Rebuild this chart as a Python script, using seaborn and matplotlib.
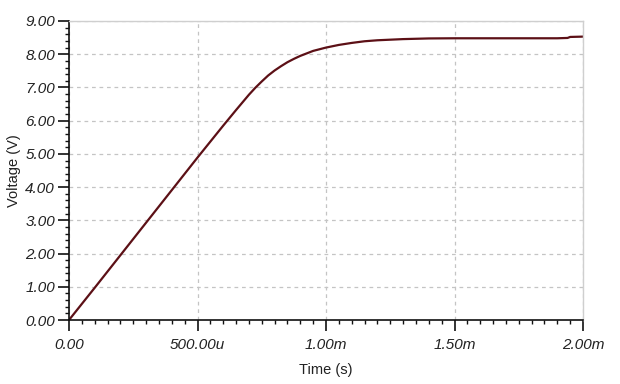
import matplotlib
matplotlib.use("Agg")
import matplotlib.pyplot as plt
import seaborn as sns
import pandas as pd
from matplotlib.ticker import MultipleLocator, FixedLocator

# Data (time in ms, voltage in V)
time_ms = [0.0, 0.1, 0.2, 0.3, 0.4, 0.5, 0.6, 0.65, 0.7, 0.725, 0.75, 0.775, 0.8,
           0.825, 0.85, 0.875, 0.9, 0.95, 1.0, 1.05, 1.1, 1.15, 1.2, 1.3, 1.4,
           1.5, 1.6, 1.7, 1.8, 1.9, 1.94, 1.95, 2.0]
voltage = [0.0, 0.97, 1.95, 2.93, 3.91, 4.89, 5.85, 6.32, 6.78, 6.99, 7.18, 7.36, 7.51,
           7.64, 7.76, 7.86, 7.95, 8.10, 8.20, 8.28, 8.34, 8.39, 8.42, 8.455, 8.475,
           8.48, 8.48, 8.48, 8.48, 8.48, 8.49, 8.52, 8.53]

x_ticks = [0.0, 0.5, 1.0, 1.5, 2.0]
x_tick_labels = ["0.00", "500.00u", "1.00m", "1.50m", "2.00m"]
y_ticks = [0, 1, 2, 3, 4, 5, 6, 7, 8, 9]
y_tick_labels = ["0.00", "1.00", "2.00", "3.00", "4.00", "5.00", "6.00", "7.00", "8.00", "9.00"]

df = pd.DataFrame({"t": time_ms, "v": voltage})

sns.set_theme(style="white")
plt.rcParams["font.family"] = ["Liberation Sans", "DejaVu Sans"]

fig = plt.figure(figsize=(6.2, 3.84), dpi=100)
ax = fig.add_axes([69 / 620, 64 / 384, (583 - 69) / 620, (320 - 21) / 384])

sns.lineplot(data=df, x="t", y="v", ax=ax, color="#5c1016", linewidth=1.6)

ax.set_xlim(0, 2.0)
ax.set_ylim(0, 9.0)

ax.xaxis.set_major_locator(FixedLocator(x_ticks))
ax.set_xticklabels(x_tick_labels)
ax.yaxis.set_major_locator(FixedLocator(y_ticks))
ax.set_yticklabels(y_tick_labels)
ax.xaxis.set_minor_locator(MultipleLocator(0.05))
ax.yaxis.set_minor_locator(MultipleLocator(0.2))

ax.grid(True, which="major", color="#c4c4c4", linestyle=(0, (3, 3)), linewidth=0.9)
ax.set_axisbelow(True)

for s in ["top", "right"]:
    ax.spines[s].set_color("#cfcfcf")
    ax.spines[s].set_linewidth(1.0)
for s in ["left", "bottom"]:
    ax.spines[s].set_color("#111111")
    ax.spines[s].set_linewidth(1.2)

ax.tick_params(axis="both", which="major", direction="out", length=8, width=1.2,
               color="#111111", labelsize=11, labelcolor="#222222",
               left=True, bottom=True)
ax.tick_params(axis="x", which="major", pad=5)
ax.tick_params(axis="y", which="major", pad=2)
ax.tick_params(axis="both", which="minor", direction="out", length=3, width=1.0,
               color="#111111", left=True, bottom=True)
for lbl in ax.get_xticklabels() + ax.get_yticklabels():
    lbl.set_fontstyle("italic")

ax.set_xlabel("Time (s)", fontsize=10.5, color="#222222", labelpad=8)
ax.set_ylabel("Voltage (V)", fontsize=10.5, color="#222222", labelpad=3)

fig.savefig("out.png", dpi=100)
